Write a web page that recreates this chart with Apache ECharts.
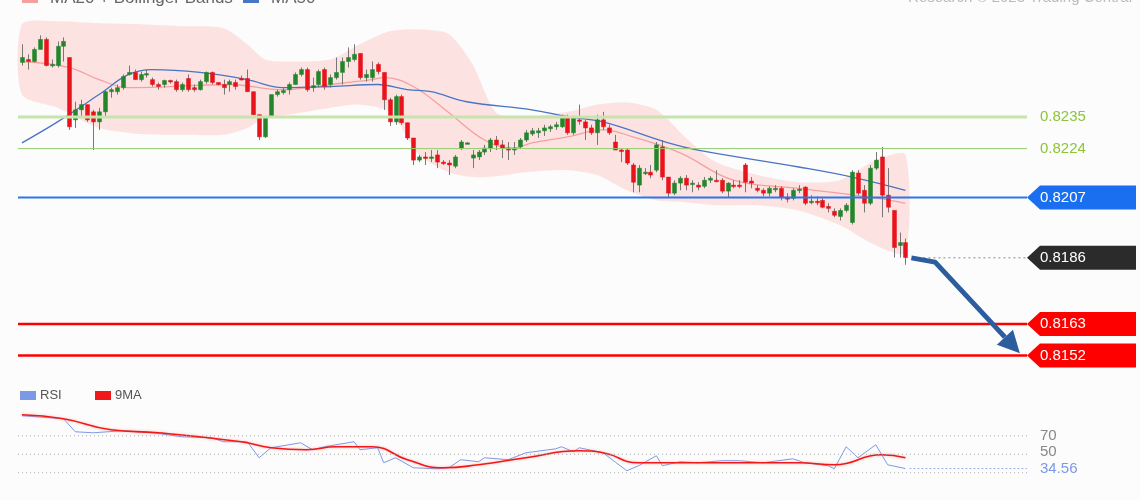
<!DOCTYPE html>
<html><head><meta charset="utf-8">
<script src="https://cdn.jsdelivr.net/npm/echarts@6/dist/echarts.min.js"></script>
<style>html,body{margin:0;padding:0;background:#fbfcfb}#c{width:1140px;height:500px}</style>
</head><body><div id="c"></div>
<script>
// candles: [open, close, low, high]
const candles = [
[.8254,.82557,.82529,.82603],[.8255,.82543,.82515,.82568],[.82543,.82585,.8254,.82592],[.82585,.8262,.82585,.82634],[.8262,.82529,.82526,.82627],
[.82529,.82533,.82522,.8255],[.82529,.82596,.82522,.82613],[.82596,.82613,.82543,.82627],[.82557,.82316,.82305,.82557],[.8234,.82375,.82312,.82403],
[.82375,.82393,.82347,.8241],[.82393,.8234,.82333,.82393],[.82368,.82333,.82235,.82375],[.82333,.82368,.82305,.82382],[.82368,.82438,.82347,.82445],
[.82438,.82445,.82417,.82452],[.82438,.82452,.82428,.82463],[.82452,.82491,.82445,.82498],[.82498,.82505,.82494,.82529],[.82505,.8248,.8248,.82515],
[.8248,.82498,.82473,.82508],[.82498,.82501,.82487,.82515],[.8248,.82463,.82456,.82487],[.82463,.82456,.82445,.8247],[.82463,.82477,.82452,.8248],
[.82477,.82473,.82466,.8248],[.82473,.82445,.82438,.8248],[.82445,.82463,.82438,.8247],[.82484,.82445,.82438,.82498],[.82452,.82445,.82438,.82463],
[.82445,.82473,.82442,.8248],[.82473,.82505,.82466,.82508],[.82505,.8247,.82463,.82508],[.8247,.82463,.82459,.8247],[.82463,.82452,.82428,.8248],
[.82463,.82473,.82438,.8248],[.8247,.82456,.82445,.8248],[.82484,.8248,.82477,.82494],[.82484,.82438,.82438,.82515],[.82438,.82358,.82358,.82438],
[.82358,.82281,.8227,.82358],[.82281,.82351,.82277,.82351],[.82351,.82428,.82347,.82428],[.82428,.82438,.82421,.82445],[.82435,.82442,.82428,.82452],
[.82445,.82463,.82428,.8247],[.82463,.82498,.82463,.82505],[.82498,.82515,.82491,.82522],[.82515,.82445,.82438,.82522],
[.82452,.82459,.82438,.82487],[.82463,.82508,.82452,.82515],[.82515,.82456,.82445,.82522],[.82463,.82487,.82452,.82498],[.82487,.82505,.8248,.82557],
[.82505,.82543,.82463,.82557],[.82543,.82557,.82522,.82592],[.8255,.82568,.82543,.82603],[.82571,.82487,.8248,.82571],[.82487,.82498,.82473,.82515],
[.82487,.82515,.82473,.82543],[.82533,.82508,.82498,.8254],[.82505,.8241,.82375,.82505],[.8241,.82333,.82319,.82417],[.82333,.82421,.82323,.82428],
[.82421,.8233,.82323,.82428],[.8233,.82277,.8227,.8233],[.82277,.822,.82183,.82277],[.822,.82211,.82193,.82218],[.82211,.82207,.82183,.82228],
[.82207,.82211,.82193,.82235],[.82218,.82193,.82172,.82235],[.82193,.8219,.82183,.822],[.8219,.82183,.82148,.822],[.82179,.82211,.82172,.82218],
[.82242,.82263,.82235,.8227],[.8226,.8226,.82258,.82262],[.82207,.82218,.82172,.82235],[.82211,.82228,.822,.82235],[.82228,.82242,.82218,.82253],
[.82242,.8227,.82228,.82277],[.8227,.82253,.82235,.82284],[.82253,.82242,.82207,.8227],[.82242,.82235,.822,.82263],[.82235,.82242,.82218,.82263],
[.82246,.8227,.82242,.82277],[.8227,.82295,.82263,.82305],[.82291,.82302,.82284,.82312],[.82295,.82302,.82277,.82312],[.82302,.82312,.82284,.82323],
[.82309,.82316,.82298,.82323],[.82316,.82323,.82305,.82333],[.82316,.82351,.82312,.82358],[.82347,.82295,.82288,.82358],[.82295,.82347,.82288,.82354],
[.8234,.82337,.82323,.82393],[.82333,.82312,.8227,.8234],[.82312,.82295,.82288,.82323],[.82295,.8234,.82253,.82358],[.8234,.82316,.82305,.82368],
[.82312,.82295,.82288,.82323],[.82263,.82235,.82235,.82288],[.82235,.82232,.82193,.82242],[.82235,.8219,.82183,.82242],[.82183,.82123,.82088,.8219],
[.82113,.82172,.82088,.82183],[.82155,.82158,.82148,.82172],[.82158,.82148,.82137,.82183],[.82165,.82253,.82158,.82263],[.82246,.82141,.8213,.8227],
[.82141,.82085,.82071,.82141],[.82085,.8212,.82078,.8213],[.8212,.82137,.82095,.82144],[.82137,.82113,.82095,.82148],[.82116,.8212,.82088,.8213],
[.82113,.82106,.82095,.82123],[.82109,.8213,.82102,.82141],[.8213,.82137,.8212,.82144],[.8213,.82127,.82123,.82165],[.8213,.82092,.82085,.82137],
[.82092,.8212,.82071,.82123],[.82113,.82109,.82102,.8213],[.82113,.82111,.82102,.8213],[.82183,.82123,.82088,.8219],[.82127,.8212,.82102,.82141],
[.82102,.82095,.82088,.82113],[.82095,.82085,.82074,.82102],[.82085,.82102,.82074,.82109],[.82099,.82102,.82088,.82113],[.82102,.82071,.8206,.82109],
[.82071,.82064,.82053,.82085],[.82067,.82095,.8206,.82102],[.82095,.82099,.82085,.82113],[.82106,.8205,.82043,.82109],[.82053,.82057,.82046,.82078],
[.82057,.82053,.82043,.82074],[.8206,.82036,.82032,.82067],[.82039,.82032,.82018,.8205],[.82022,.82008,.82001,.82032],[.82004,.82025,.8199,.82032],
[.82025,.82043,.82018,.8205],[.81983,.82158,.81976,.82165],[.82155,.82085,.82078,.82165],[.82095,.8205,.82018,.82113],[.8205,.82172,.82043,.82183],
[.82172,.822,.82165,.82228],[.82211,.82078,.82001,.82246],[.82078,.82036,.82018,.82172],[.82025,.81896,.81861,.82025],[.81903,.81913,.81861,.81948],
[.81913,.81861,.81836,.81927]
];
const bandIdx = [0,6,13,20,27,34,38,41,45,52,57,62,67,72,76,80,85,92,97,102,107,112,117,124,131,138,144,149];
const bandUpper = [.82673,.82683,.82676,.82673,.82666,.82659,.82603,.8255,.82543,.8255,.82603,.82648,.82655,.82638,.82533,.82365,.82351,.82368,.82393,.824,.82375,.82277,.82193,.82148,.82123,.8213,.822,.82218];
const bandLower = [.82428,.82382,.82312,.82291,.82288,.82288,.82312,.82347,.82358,.82382,.82393,.82368,.82218,.82158,.82141,.82144,.82158,.82165,.82148,.82095,.8206,.82053,.82043,.82043,.82025,.81973,.81903,.81878];
const ma20 = [[0,.82543],[8,.82522],[13,.8248],[18,.82452],[35,.82463],[44,.82445],[52,.82463],[59,.8248],[61,.82487],[66,.82456],[72,.82365],[78,.8227],[83,.82242],[86,.8226],[92,.82281],[98,.82305],[103,.82281],[111,.82225],[120,.8213],[131,.82102],[143,.82071],[149,.8205]];
const ma50 = [[0,.8226],[6,.82333],[13,.82428],[18,.82498],[22,.82515],[30,.82505],[38,.8248],[44,.82452],[52,.82456],[60,.82463],[65,.82445],[69,.82438],[75,.82403],[86,.82375],[92,.82351],[98,.82333],[109,.8226],[114,.82235],[131,.82176],[140,.82141],[149,.82095]];
const rsi = [[0,91.6],[7,88.4],[9,74.3],[12,73.2],[17,75.4],[22,73.2],[27,68.9],[32,67.8],[34,63.5],[38,63.5],[40,46.2],[42,57],[47,62.4],[49,54.9],[51,58.1],[56,63.5],[57,54.9],[60,57],[61,40.8],[63,46.2],[66,35.4],[70,34.3],[72,35.4],[74,44.1],[77,41.9],[78,46.2],[82,44.1],[85,51.6],[90,55.9],[91,58.1],[93,52.7],[94,57],[98,51.6],[100,41.9],[102,32.2],[104,37.6],[107,48.4],[108,37.6],[111,41.9],[114,40.8],[118,43],[121,43],[125,40.8],[130,45.1],[132,40.8],[136,37.6],[137,34.3],[139,58.1],[141,46.2],[144,60.3],[146,38.6],[149,34.56]];
const rsiMA = [[0,92.7],[7,88.4],[15,76.5],[23,73.2],[37,63.5],[42,57],[48,54.9],[53,58.1],[59,58.1],[65,44.1],[71,35.4],[77,38.6],[85,46.2],[94,53.8],[98,51.6],[104,40.8],[113,40.8],[131,40.8],[137,38.6],[145,49.5],[149,46.2]];
const levels = {r1:0.8235, r2:0.8224, pivot:0.8207, last:0.8186, s1:0.8163, s2:0.8152};
const rsiLevels = [70,50,30];
const rsiLast = 34.56;

const NCAT = 170;
const cats = Array.from({length:NCAT},(_,i)=>String(i));
const FONT = 'Liberation Sans, Arial, sans-serif';
const chart = echarts.init(document.getElementById('c'));
const last = candles.length-1;
const bandData = bandIdx.map((i,k)=>[i,bandUpper[k],bandLower[k]]);

chart.setOption({
  animation:false,
  backgroundColor:'#fbfcfb',
  grid:[{left:19,top:0,width:1008,height:380},{left:19,top:408,width:1008,height:74}],
  xAxis:[{type:'category',data:cats,gridIndex:0,show:false,boundaryGap:true},
         {type:'category',data:cats,gridIndex:1,show:false,boundaryGap:true}],
  yAxis:[{type:'value',gridIndex:0,min:0.81435,max:0.82757,show:false,splitLine:{show:false}},
         {type:'value',gridIndex:1,min:20,max:100,show:false,splitLine:{show:false}}],
  series:[
    {type:'custom',xAxisIndex:0,yAxisIndex:0,z:1,data:[0],silent:true,
     renderItem:(p,api)=>{
       const up=bandData.map(d=>api.coord([d[0],d[1]]));
       const lo=bandData.map(d=>api.coord([d[0],d[2]])).reverse();
       return {type:'polygon',shape:{points:up.concat(lo),smooth:0.25},style:{fill:'rgba(253,205,205,0.55)',stroke:null}};
     }},
    {type:'line',data:ma20,smooth:0.4,symbol:'none',z:2,lineStyle:{color:'#f5a0a0',width:1.3}},
    {type:'line',data:ma50,smooth:0.4,symbol:'none',z:2,lineStyle:{color:'#4a74c4',width:1.3}},
    {type:'custom',z:3,data:candles.map((c,i)=>[i].concat(c)),
     renderItem:(p,api)=>{
       const i=api.value(0),o=api.value(1),c=api.value(2),l=api.value(3),h=api.value(4);
       const po=api.coord([i,o]),pc=api.coord([i,c]),pl=api.coord([i,l]),ph=api.coord([i,h]);
       const x=Math.round(po[0]);
       const top=Math.min(po[1],pc[1]),ht=Math.max(1.5,Math.abs(po[1]-pc[1]));
       const col=c>=o?'#23862a':'#e8131b';
       return {type:'group',children:[
         {type:'line',shape:{x1:x+0.5,y1:ph[1],x2:x+0.5,y2:pl[1]},style:{stroke:'#777',lineWidth:1}},
         {type:'rect',shape:{x:x-1.5,y:top,width:4,height:ht},style:{fill:col,stroke:col,lineWidth:0.5}}]};
     }},
    {type:'line',xAxisIndex:1,yAxisIndex:1,data:rsi,symbol:'none',z:3,lineStyle:{color:'#7b9ae6',width:1}},
    {type:'line',xAxisIndex:1,yAxisIndex:1,data:rsiMA,smooth:0.5,symbol:'none',z:4,lineStyle:{color:'#f01818',width:1.6,shadowColor:'rgba(255,120,120,0.5)',shadowBlur:3}}
  ]
});

function P(i,v,g){ const a=chart.convertToPixel({xAxisIndex:g||0,yAxisIndex:g||0},[0,v]); const b=chart.convertToPixel({xAxisIndex:g||0,yAxisIndex:g||0},[1,v]); return [a[0]+(b[0]-a[0])*i,a[1]]; }
const g=[];
function hline(v,grid,x1,x2,color,w,dash){
  const y=P(0,v,grid)[1];
  g.push({type:'line',shape:{x1:x1,y1:y,x2:x2,y2:y},style:{stroke:color,lineWidth:w,lineDash:dash||null},z:5});
}
const xEnd = 1027, xStart = 18, xLast = P(last,0)[0];
hline(levels.r1,0,xStart,xEnd,'#c7e4ad',3);
hline(levels.r2,0,xStart,xEnd,'#93cc70',1);
hline(levels.pivot,0,xStart,xEnd,'#2f74e8',2);
hline(levels.s1,0,xStart,xEnd,'#ff0000',2.5);
hline(levels.s2,0,xStart,xEnd,'#ff0000',2.5);
hline(levels.last,0,xLast+18,xEnd,'#888',1,[2,3]);
rsiLevels.forEach(v=>hline(v,1,xStart,xEnd,'#aaa',1,[1,3]));
hline(rsiLast,1,xLast+4,xEnd,'#9ab5ef',1,[2,2]);

function tag(v,color,txt){
  const y=P(0,v)[1];
  g.push({type:'polygon',shape:{points:[[1027,y],[1040,y-12],[1136,y-12],[1136,y+12],[1040,y+12]]},style:{fill:color},z:10});
  g.push({type:'text',x:1040,y:y,style:{text:txt,fill:'#fff',font:'15px '+FONT,verticalAlign:'middle'},z:11});
}
function gtxt(v,txt,color){ const y=P(0,v)[1]; g.push({type:'text',x:1040,y:y,style:{text:txt,fill:color,font:'15px '+FONT,verticalAlign:'middle'},z:11}); }
gtxt(levels.r1,levels.r1.toFixed(4),'#8ec43a');
gtxt(levels.r2,levels.r2.toFixed(4),'#8ec43a');
tag(levels.pivot,'#1a6ff0',levels.pivot.toFixed(4));
tag(levels.last,'#2b2b2b',levels.last.toFixed(4));
tag(levels.s1,'#ff0000',levels.s1.toFixed(4));
tag(levels.s2,'#ff0000',levels.s2.toFixed(4));
[[70,'70','#888',0],[50,'50','#888',-2],[rsiLast,rsiLast.toFixed(2),'#7b9ae6',0]].forEach(([v,t,c,off])=>{
  const y=P(0,v,1)[1]; g.push({type:'text',x:1040,y:y+off,style:{text:t,fill:c,font:'15px '+FONT,verticalAlign:'middle'},z:11});
});
const a0=P(last+1,levels.last), a1=P(last+5,0.81845), a2=P(168.3,0.81528);
const dx=a2[0]-a1[0],dy=a2[1]-a1[1],L=Math.hypot(dx,dy),ux=dx/L,uy=dy/L;
const base=[a2[0]-ux*22,a2[1]-uy*22];
g.push({type:'polyline',shape:{points:[a0,a1,base]},style:{stroke:'#2c5d9e',lineWidth:5,lineJoin:'round'},z:12});
g.push({type:'polygon',shape:{points:[a2,[base[0]-uy*11,base[1]+ux*11],[base[0]+uy*11,base[1]-ux*11]]},style:{fill:'#2c5d9e'},z:12});
g.push({type:'rect',shape:{x:22,y:-6,width:16,height:9},style:{fill:'#f5a0a0'}});
g.push({type:'text',x:50,y:-10,style:{text:'MA20 + Bollinger Bands',fill:'#666',font:'17px '+FONT}});
g.push({type:'rect',shape:{x:243,y:-6,width:16,height:9},style:{fill:'#4a74c4'}});
g.push({type:'text',x:271,y:-10,style:{text:'MA50',fill:'#666',font:'17px '+FONT}});
g.push({type:'text',x:1132,y:-10,style:{text:'Research © 2023 Trading Central',fill:'#bbb',font:'15px '+FONT,align:'right'}});
g.push({type:'rect',shape:{x:20,y:391,width:16,height:9},style:{fill:'#7b9ae6'}});
g.push({type:'text',x:40,y:395,style:{text:'RSI',fill:'#555',font:'13px '+FONT,verticalAlign:'middle'}});
g.push({type:'rect',shape:{x:95,y:391,width:16,height:9},style:{fill:'#f01818'}});
g.push({type:'text',x:115,y:395,style:{text:'9MA',fill:'#555',font:'13px '+FONT,verticalAlign:'middle'}});
chart.setOption({graphic:g});
</script></body></html>
